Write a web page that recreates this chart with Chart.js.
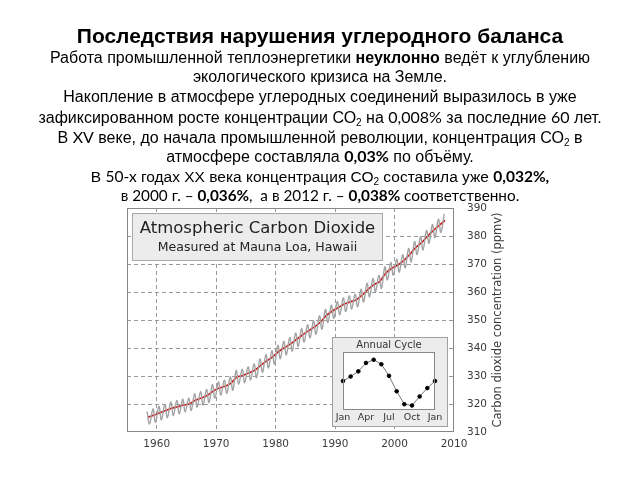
<!DOCTYPE html>
<html>
<head>
<meta charset="utf-8">
<script src="https://cdn.jsdelivr.net/npm/chart.js@4.4.1/dist/chart.umd.min.js"></script>
<style>
  html, body { margin:0; padding:0; background:#fff; }
  body { width:640px; height:480px; position:relative; overflow:hidden; }
  #main { position:absolute; left:0; top:0; width:640px; height:480px; }
  .l { position:absolute; left:0; width:640px; text-align:center; white-space:nowrap;
       font-family:"Liberation Sans", Arial, sans-serif; font-size:16px; line-height:20px; color:#000; }
  .t { font-size:21px; font-weight:bold; line-height:24px; }
  .c { font-family:Lato, "Liberation Sans", sans-serif; }
  .s { font-size:15.5px; }
  .s2 { font-size:15.3px; }
  sub { font-size:10px; vertical-align:-3px; line-height:0; }
  #insetBox { position:absolute; left:332px; top:337px; width:114px; height:88px;
              background:#ececec; border:1px solid #a0a0a0; }
  #inset { display:block; }
</style>
</head>
<body>
<canvas id="main" width="640" height="480"></canvas>
<div class="l t" style="top:24px">Последствия нарушения углеродного баланса</div>
<div class="l" style="top:48px">Работа промышленной теплоэнергетики <b>неуклонно</b> ведёт к углублению</div>
<div class="l" style="top:67px">экологического кризиса на Земле.</div>
<div class="l" style="top:87px">Накопление в атмосфере углеродных соединений выразилось в уже</div>
<div class="l" style="top:107px">зафиксированном росте концентрации СО<sub>2</sub> на <span class="c">0,008%</span> за последние <span class="c">60</span> лет.</div>
<div class="l" style="top:127px">В <span class="c">XV</span> веке, до начала промышленной революции, концентрация СО<sub>2</sub> в</div>
<div class="l" style="top:146px">атмосфере составляла <b class="c">0,03%</b> по объёму.</div>
<div class="l s" style="top:166px">В <span class="c">50-х</span> годах ХХ века концентрация СО<sub>2</sub> составила уже <b class="c">0,032%,</b></div>
<div class="l c s2" style="top:185px">в 2000 г. – <b>0,036%</b>,&nbsp; а в 2012 г. – <b>0,038%</b> соответственно.</div>
<div id="insetBox"><canvas id="inset" width="114" height="88"></canvas></div>
<script>
// ---- data ----
const years = [1958,1959,1960,1961,1962,1963,1964,1965,1966,1967,1968,1969,1970,1971,1972,1973,1974,1975,1976,1977,1978,1979,1980,1981,1982,1983,1984,1985,1986,1987,1988,1989,1990,1991,1992,1993,1994,1995,1996,1997,1998,1999,2000,2001,2002,2003,2004,2005,2006,2007,2008];
const annualMean = [315.3,315.97,316.91,317.64,318.45,318.99,319.62,320.04,321.38,322.16,323.04,324.62,325.68,326.32,327.45,329.68,330.18,331.11,332.04,333.83,335.40,336.84,338.75,340.11,341.45,343.05,344.65,346.12,347.42,349.19,351.57,353.12,354.39,355.61,356.45,357.10,358.83,360.82,362.61,363.73,366.70,368.38,369.55,371.14,373.28,375.80,377.52,379.80,381.90,383.79,385.60];
const mayPeak = [317.4,318.2,319.2,319.9,320.7,321.3,321.7,322.1,323.6,324.4,325.2,326.9,327.9,328.5,329.7,332.0,332.4,333.3,334.3,336.1,337.6,339.0,341.0,342.4,343.7,345.3,346.9,348.3,349.7,351.5,353.8,355.3,356.6,357.9,358.6,359.2,361.0,363.1,364.8,365.9,369.0,370.5,371.7,373.3,375.5,378.0,379.7,382.0,384.1,386.0,387.9];
const octTrough = [312.9,313.5,314.3,315.1,315.9,316.5,317.2,317.7,318.9,319.6,320.5,322.1,323.2,323.8,324.9,327.1,327.6,328.6,329.4,331.3,332.9,334.3,336.2,337.5,338.9,340.6,342.1,343.6,344.9,346.7,349.1,350.6,351.9,353.0,353.9,354.7,356.4,358.3,360.1,361.3,364.3,366.0,367.1,368.7,370.8,373.4,375.0,377.4,379.4,381.3];
const xTicks = [1960,1970,1980,1990,2000,2010];
const yTicks = [310,320,330,340,350,360,370,380,390];
const cycleLabels = ['Jan','Feb','Mar','Apr','May','Jun','Jul','Aug','Sep','Oct','Nov','Dec','Jan'];
const cycleValues = [0.0,0.7,1.5,2.8,3.3,2.6,0.8,-1.6,-3.6,-3.8,-2.4,-1.1,0.0];

// month positions within a year (fraction of year) for seasonal max / min / mean
const PEAK_POS = 0.37, TROUGH_POS = 0.79, MEAN_POS = 0.5;

const grayPts = [];
years.forEach((y, i) => {
  grayPts.push({x: y + PEAK_POS, y: mayPeak[i]});
  if (i < octTrough.length) grayPts.push({x: y + TROUGH_POS, y: octTrough[i]});
});
const redPts = years.map((y, i) => ({x: y + MEAN_POS, y: annualMean[i]}));

Chart.defaults.font.family = '"DejaVu Sans", sans-serif';
Chart.defaults.color = '#3a3a3a';

const mainDeco = {
  id: 'mainDeco',
  beforeDatasetsDraw(chart) {
    const {ctx, chartArea: a} = chart;
    ctx.save();
    const bx = a.left + 5.5, by = a.top + 5.5, bw = 250, bh = 47;
    ctx.fillStyle = '#ececec'; ctx.strokeStyle = '#a8a8a8'; ctx.lineWidth = 1;
    ctx.fillRect(bx, by, bw, bh); ctx.strokeRect(bx, by, bw, bh);
    ctx.fillStyle = '#222'; ctx.textAlign = 'center'; ctx.textBaseline = 'middle';
    ctx.font = '16.5px "DejaVu Sans"';
    ctx.fillText('Atmospheric Carbon Dioxide', bx + bw / 2, by + 15);
    ctx.font = '12.5px "DejaVu Sans"';
    ctx.fillText('Measured at Mauna Loa, Hawaii', bx + bw / 2, by + 34);
    ctx.restore();
  },
  afterDraw(chart) {
    const {ctx, chartArea: a} = chart;
    ctx.save();
    ctx.strokeStyle = '#888'; ctx.lineWidth = 1;
    ctx.strokeRect(Math.round(a.left) + 0.5, Math.round(a.top) + 0.5,
                   Math.round(a.right - a.left) - 1, Math.round(a.bottom - a.top) - 1);
    ctx.translate(a.right + 44, (a.top + a.bottom) / 2);
    ctx.rotate(-Math.PI / 2);
    ctx.fillStyle = '#3a3a3a'; ctx.textAlign = 'center'; ctx.textBaseline = 'middle';
    ctx.font = '11.5px "DejaVu Sans"';
    ctx.fillText('Carbon dioxide concentration (ppmv)', 0, 0);
    ctx.restore();
  }
};

new Chart(document.getElementById('main'), {
  type: 'scatter',
  data: {
    datasets: [
      { data: grayPts, showLine: true, borderColor: '#a3a3a3', borderWidth: 1.4, pointRadius: 0, tension: 0.4 },
      { data: redPts, showLine: true, borderColor: '#cc1111', borderWidth: 1.6, pointRadius: 0, tension: 0.2 }
    ]
  },
  options: {
    responsive: false, animation: false,
    layout: { padding: { left: 127, top: 208, right: 146, bottom: 24 } },
    plugins: { legend: { display: false }, tooltip: { enabled: false } },
    scales: {
      x: {
        type: 'linear', min: 1955, max: 2010,
        afterBuildTicks: s => { s.ticks = xTicks.map(v => ({value: v})); },
        afterFit: s => { s.height = 24; },
        border: { display: false, dash: [4, 3] },
        grid: { color: c => (c.tick && c.tick.value === 2010) ? 'rgba(0,0,0,0)' : '#9a9a9a',
                drawTicks: false, lineWidth: 1 },
        ticks: { padding: 6, font: { size: 10.5 }, color: '#3a3a3a', maxRotation: 0,
                 callback: v => String(v) }
      },
      y: {
        position: 'right', min: 310, max: 390,
        afterBuildTicks: s => { s.ticks = yTicks.map(v => ({value: v})); },
        afterFit: s => { s.width = 40; },
        border: { display: false, dash: [4, 3] },
        grid: { color: c => (c.tick && (c.tick.value === 310 || c.tick.value === 390)) ? 'rgba(0,0,0,0)' : '#9a9a9a',
                drawTicks: false, lineWidth: 1 },
        ticks: { padding: 13, font: { size: 10.5 }, color: '#3a3a3a', callback: v => String(v) }
      }
    }
  },
  plugins: [mainDeco]
});

const insetDeco = {
  id: 'insetDeco',
  beforeDatasetsDraw(chart) {
    const {ctx, chartArea: a} = chart;
    ctx.save(); ctx.fillStyle = '#fff';
    ctx.fillRect(a.left, a.top, a.right - a.left, a.bottom - a.top);
    ctx.restore();
  },
  afterDraw(chart) {
    const {ctx, chartArea: a} = chart;
    ctx.save(); ctx.strokeStyle = '#888'; ctx.lineWidth = 1;
    ctx.strokeRect(Math.round(a.left) + 0.5, Math.round(a.top) + 0.5,
                   Math.round(a.right - a.left) - 1, Math.round(a.bottom - a.top) - 1);
    ctx.restore();
  }
};

new Chart(document.getElementById('inset'), {
  type: 'line',
  data: {
    labels: cycleLabels,
    datasets: [{ data: cycleValues, borderColor: '#777', borderWidth: 1, pointRadius: 1.8,
                 pointBackgroundColor: '#000', pointBorderColor: '#000', tension: 0, clip: false }]
  },
  options: {
    responsive: false, animation: false,
    layout: { padding: { left: 10, right: 12, top: 0, bottom: 0 } },
    plugins: {
      legend: { display: false }, tooltip: { enabled: false },
      title: { display: true, text: 'Annual Cycle', color: '#333', font: { size: 10, weight: 'normal' },
               padding: { top: 1, bottom: 1 } }
    },
    scales: {
      x: {
        offset: false,
        afterFit: s => { s.height = 16; },
        border: { display: false }, grid: { display: false, drawTicks: false },
        ticks: { autoSkip: false, maxRotation: 0, padding: 2, font: { size: 9.5 }, color: '#333',
                 callback: (v, i) => (i % 3 === 0 ? cycleLabels[i] : '') }
      },
      y: { display: false, min: -4.5, max: 4.5 }
    }
  },
  plugins: [insetDeco]
});
</script>
</body>
</html>
